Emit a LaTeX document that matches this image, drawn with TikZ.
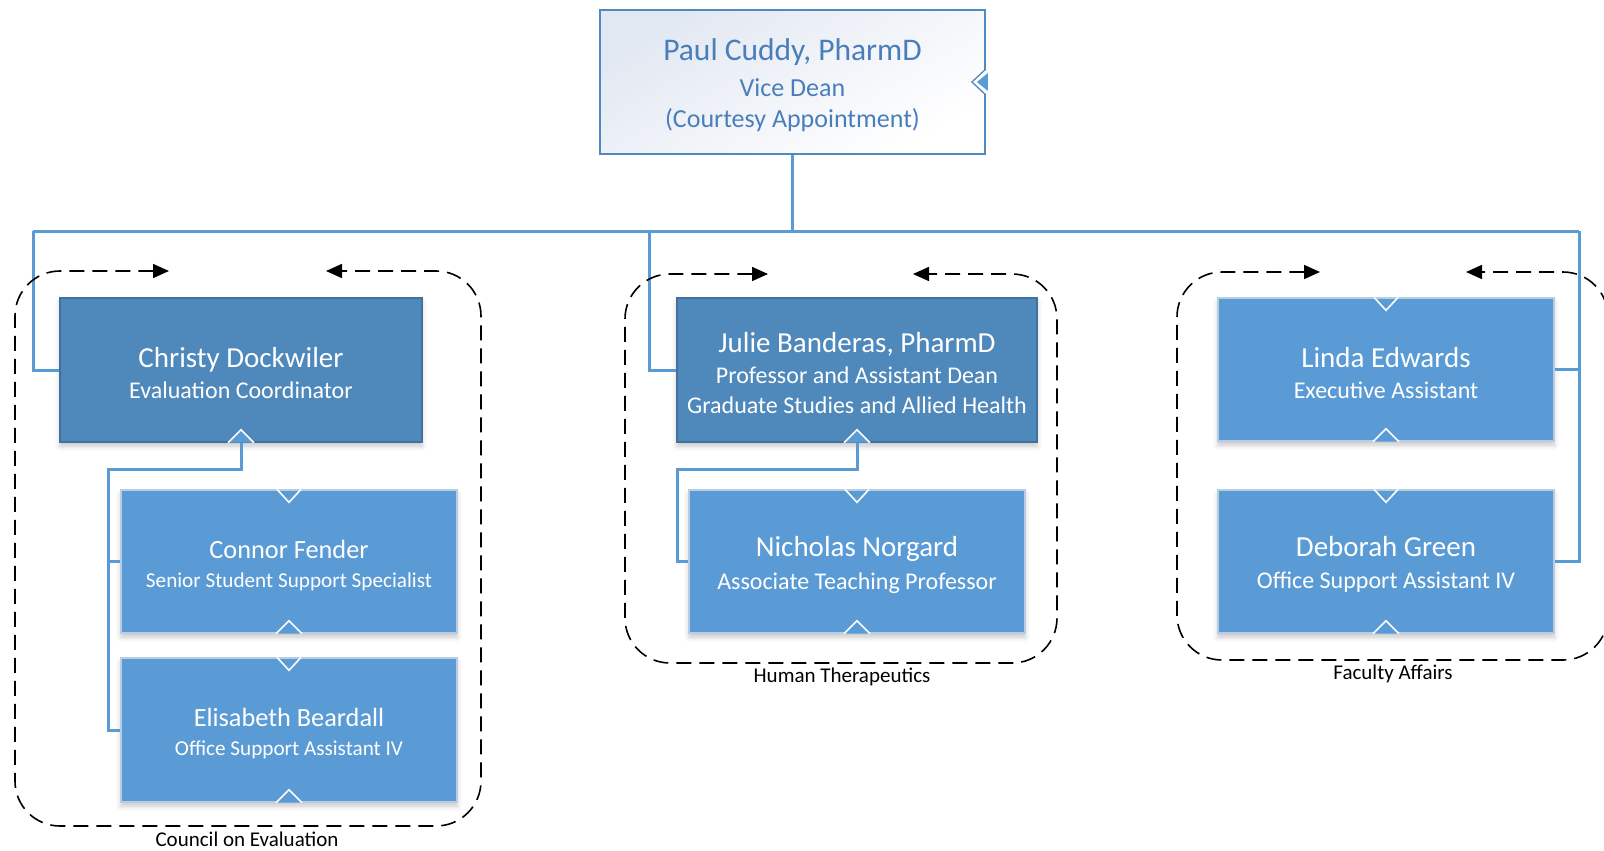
\documentclass[tikz,border=0pt]{standalone}
\usepackage{fontspec}
\setmainfont{Carlito}
\usetikzlibrary{arrows.meta,shadows.blur}
\definecolor{conncol}{HTML}{5B9BD5}
\definecolor{darkfill}{HTML}{4F88BB}
\definecolor{darkborder}{HTML}{41719C}
\definecolor{lightfill}{HTML}{5B9BD5}
\definecolor{lightborder}{HTML}{B8CCE4}
\definecolor{toptext}{HTML}{4A7EBB}
\definecolor{topborder}{HTML}{5088C0}
\definecolor{topshade}{HTML}{E2E8F2}
\newcommand\bigname[1]{{\fontsize{29}{31}\selectfont\rule{0pt}{26.5pt}#1}}
\newcommand\midname[1]{{\fontsize{26.3}{29}\selectfont\rule{0pt}{26pt}#1}}
\newcommand\topnotch[1]{\draw[white,line width=1.6pt] ([xshift=-12pt]#1.north) -- ++(12,13) -- ++(12,-13);}
\newcommand\botnotch[1]{\fill[fill=conncol] ([xshift=-13pt]#1.south) -- ++(13,-13) -- ++(13,13) -- cycle;
  \draw[white,line width=1.6pt] ([xshift=-13pt]#1.south) -- ++(13,-13) -- ++(13,13);}
\begin{document}
\begin{tikzpicture}[x=1pt,y=-1pt,
  connector/.style={draw=conncol,line width=3pt},
  grp/.style={draw=black,line width=1.6pt,dash pattern=on 15pt off 8pt,rounded corners=45pt,
    {Triangle[length=16pt,width=14pt]}-{Triangle[length=16pt,width=14pt]}},
  box/.style={rectangle,inner sep=0pt,align=center,text=white,line width=1.3pt,
    blur shadow={shadow xshift=0pt,shadow yshift=-4pt,shadow blur radius=5pt,shadow opacity=22}},
  darkbox/.style={box,fill=darkfill,draw=darkborder,minimum height=144pt,
    font=\fontsize{24}{31}\selectfont},
  lightbox/.style={box,fill=lightfill,draw=lightborder,minimum width=336pt,minimum height=143pt,
    font=\fontsize{24}{32}\selectfont},
  smallbox/.style={lightbox,font=\fontsize{21.2}{29}\selectfont},
  grplabel/.style={font=\fontsize{21}{24}\selectfont,text=black,inner sep=0pt}
]
\useasboundingbox (0,0) rectangle (1604,851);
\clip (0,0) rectangle (1604,851);

% top box
\node[rectangle,draw=topborder,line width=1.8pt,left color=topshade,right color=white,shading angle=30,
  minimum width=385pt,minimum height=144pt,inner sep=0pt,align=center,text=toptext,
  font=\fontsize{26}{31}\selectfont] (top) at (792.5,82)
  {{\fontsize{31.5}{36}\selectfont\rule{0pt}{29pt}Paul Cuddy, PharmD}\\[5pt]Vice Dean\\(Courtesy Appointment)};
\draw[topborder,line width=1.3pt,fill=white] ([yshift=13pt]top.east) -- ++(-14,13) -- ++(14,13);
\fill[fill=conncol] ([yshift=9pt,xshift=2pt]top.east) -- ++(-11,9) -- ++(11,9) -- cycle;

% left group
\node[darkbox,minimum width=362pt] (christy) at (241,370)
  {\bigname{Christy Dockwiler}\\Evaluation Coordinator};
\node[smallbox] (connor) at (289,561.5)
  {\midname{Connor Fender}\\Senior Student Support Specialist};
\node[smallbox,minimum height=144pt] (elisabeth) at (289,730)
  {\midname{Elisabeth Beardall}\\Office Support Assistant IV};

% middle group
\node[darkbox,minimum width=360pt,font=\fontsize{24}{30.5}\selectfont] (julie) at (857,370)
  {\bigname{Julie Banderas, PharmD}\\Professor and Assistant Dean\\Graduate Studies and Allied Health};
\node[lightbox,font=\fontsize{24}{33}\selectfont] (nicholas) at (857,561.5)
  {\bigname{Nicholas Norgard}\\Associate Teaching Professor};

% right group
\node[lightbox,font=\fontsize{24}{31}\selectfont] (linda) at (1386,369.5)
  {\bigname{Linda Edwards}\\Executive Assistant};
\node[lightbox] (deborah) at (1386,561.5)
  {\bigname{Deborah Green}\\Office Support Assistant IV};

% notches
\botnotch{christy}
\topnotch{connor}\botnotch{connor}
\topnotch{elisabeth}\botnotch{elisabeth}
\botnotch{julie}
\topnotch{nicholas}\botnotch{nicholas}
\topnotch{linda}\botnotch{linda}
\topnotch{deborah}\botnotch{deborah}

% connectors
\coordinate (hleft) at (33,231);
\coordinate (hmid) at (649,231);
\coordinate (hright) at (1579,231);
\coordinate (cbus) at (108,469);
\coordinate (jbus) at (677,469);
\draw[connector] (top.south) -- (top.south |- hleft);
\draw[connector] (hleft) -- (hright);
\draw[connector] (hleft) |- (christy.west);
\draw[connector] (hmid) |- (julie.west);
\draw[connector] (hright) |- (deborah.east);
\draw[connector] (linda.east) -- (linda.east -| hright);
\draw[connector] (christy.south) |- (cbus) |- (elisabeth.west);
\draw[connector] (cbus |- connor.west) -- (connor.west);
\draw[connector] (julie.south) |- (jbus) |- (nicholas.west);

% group containers
\draw[grp] (169,271) -- (15,271) -- (15,826) -- (481,826) -- (481,271) -- (326,271);
\draw[grp] (768,274) -- (625,274) -- (625,663) -- (1057,663) -- (1057,274) -- (913,274);
\draw[grp] (1320,272) -- (1177,272) -- (1177,660) -- (1608,660) -- (1608,272) -- (1466,272);

\node[grplabel] (lcouncil) at (247,839) {Council on Evaluation};
\node[grplabel] (lhuman) at (842,677) {Human Therapeutics};
\node[grplabel] (lfaculty) at (1393,674) {Faculty Affairs};
\end{tikzpicture}
\end{document}
